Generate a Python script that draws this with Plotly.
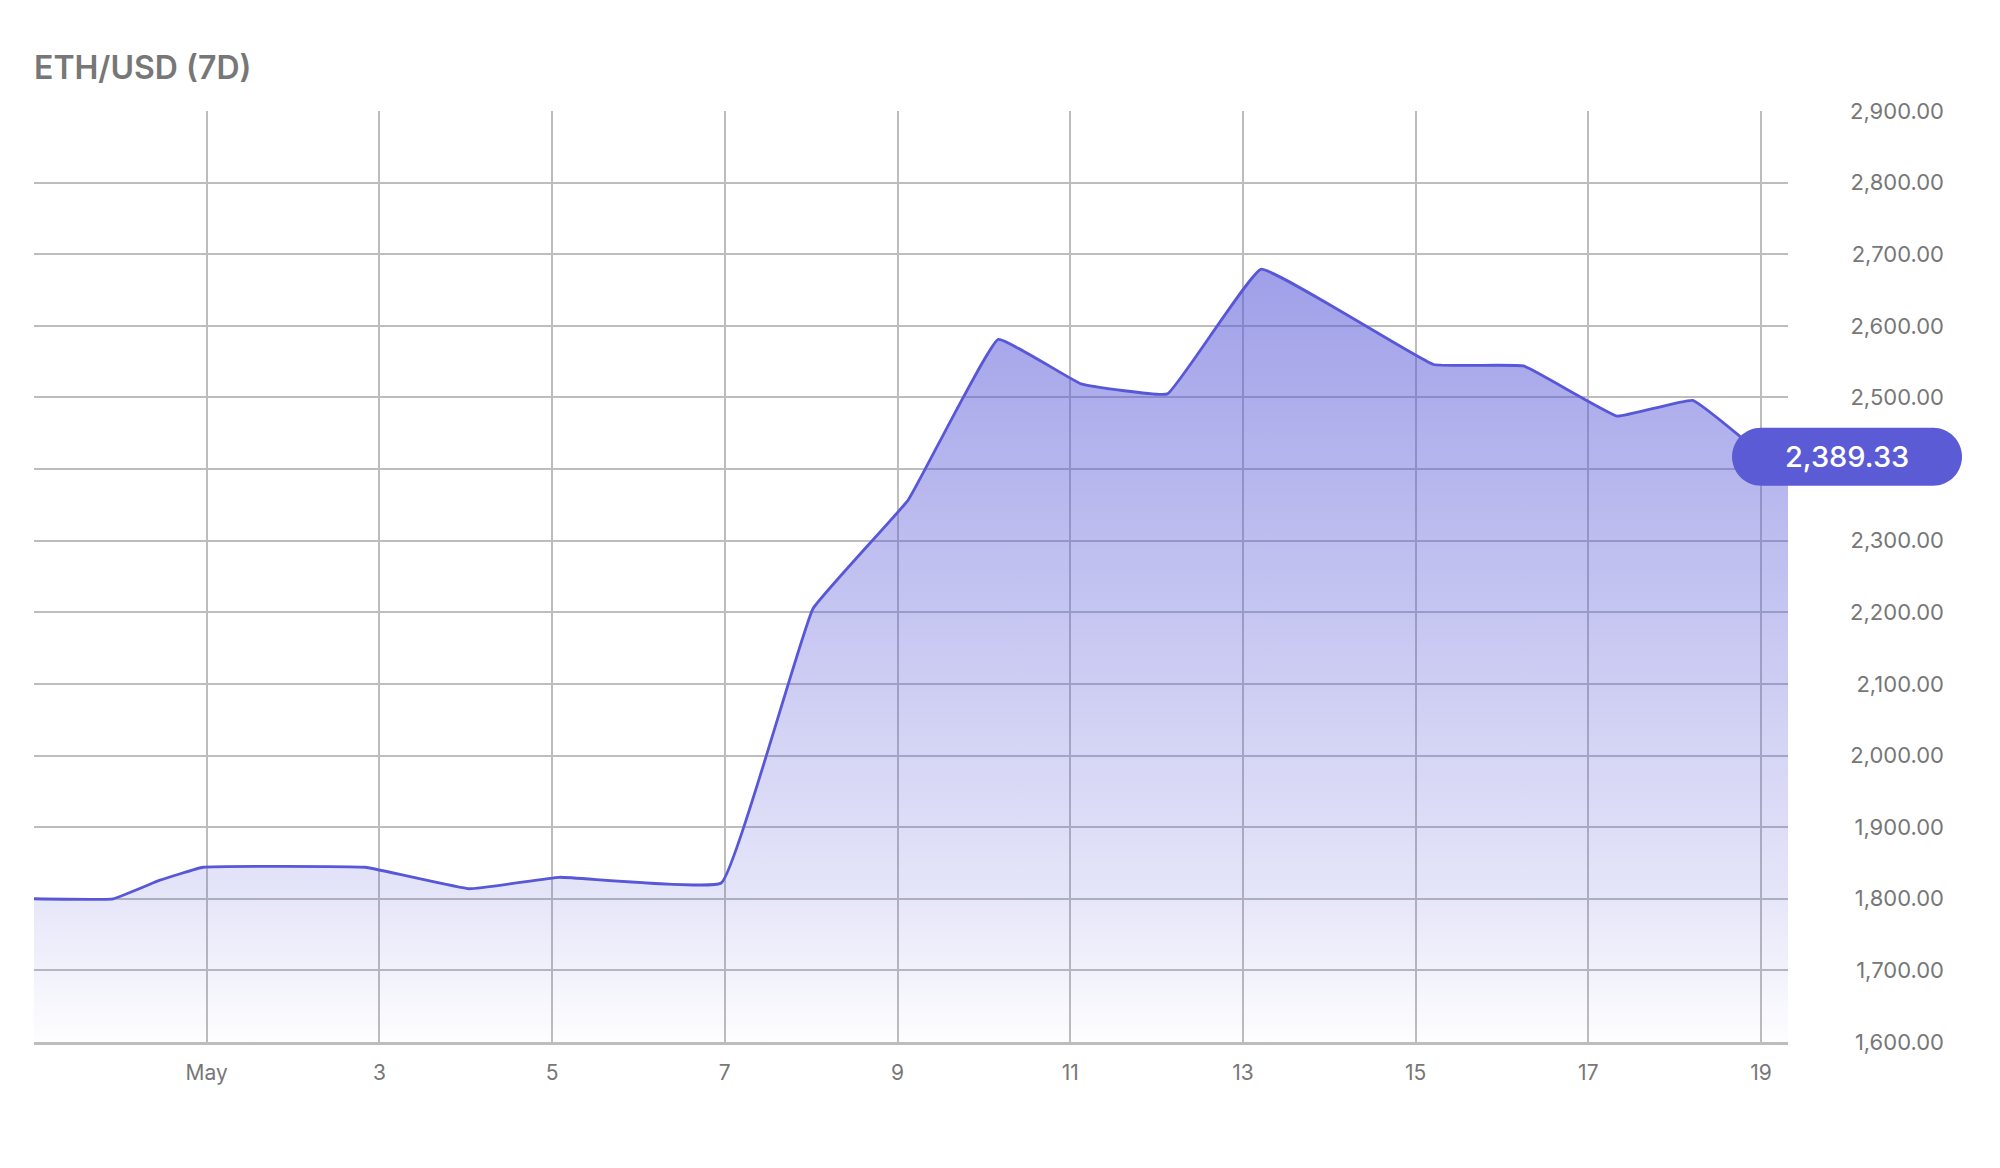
import plotly.graph_objects as go

# ---- data ----
dates = [
    "2025-04-29 00:00", "2025-04-29 22:00", "2025-04-30 11:00", "2025-04-30 23:00",
    "2025-05-02 20:00", "2025-05-04 01:00", "2025-05-05 02:00", "2025-05-06 23:00",
    "2025-05-08 00:30", "2025-05-09 03:00", "2025-05-10 04:00", "2025-05-11 03:00",
    "2025-05-12 03:00", "2025-05-13 05:00", "2025-05-15 05:00", "2025-05-16 06:00",
    "2025-05-17 08:00", "2025-05-18 05:00", "2025-05-19 07:30",
]
prices = [
    1800, 1800, 1826, 1844,
    1844, 1814, 1830, 1822,
    2205, 2357, 2581, 2519,
    2505, 2679, 2546, 2544,
    2474, 2496, 2389.33,
]
tick_vals = ["2025-04-29", "2025-05-01", "2025-05-03", "2025-05-05", "2025-05-07",
             "2025-05-09", "2025-05-11", "2025-05-13", "2025-05-15", "2025-05-17",
             "2025-05-19"]
tick_text = ["", "May", "3", "5", "7", "9", "11", "13", "15", "17", "19"]
y_ticks = [1600, 1700, 1800, 1900, 2000, 2100, 2200, 2300, 2400, 2500,
           2600, 2700, 2800, 2900]
title_text = "ETH/USD (7D)"

LINE = "#5757D8"
GRID = "#BDBDBD"
TXT = "#777777"

last = prices[-1]
# labels hidden behind the price badge (as in the reference)
y_text = ["" if abs(v - last) < 50 else f"{v:,.2f}" for v in y_ticks]

fig = go.Figure()
fig.add_trace(go.Scatter(
    x=dates, y=prices, mode="lines",
    line=dict(color=LINE, width=2.8, shape="spline", smoothing=0.25),
    fill="tozeroy",
    fillgradient=dict(
        type="vertical",
        colorscale=[[0, "rgba(87,87,216,0.01)"], [0.2, "rgba(87,87,216,0.16)"],
                    [1, "rgba(87,87,216,0.57)"]],
        start=1600, stop=2680,
    ),
    hoverinfo="skip", showlegend=False,
))

# pill badge
w, h = 230, 58
r = h / 2
k = 0.5523 * r
cy = 20
x1 = w / 2 - r
path = (f"M {-x1},{cy - r} L {x1},{cy - r} "
        f"C {x1 + k},{cy - r} {w/2},{cy - k} {w/2},{cy} "
        f"C {w/2},{cy + k} {x1 + k},{cy + r} {x1},{cy + r} "
        f"L {-x1},{cy + r} "
        f"C {-x1 - k},{cy + r} {-w/2},{cy + k} {-w/2},{cy} "
        f"C {-w/2},{cy - k} {-x1 - k},{cy - r} {-x1},{cy - r} Z")
badge_x = (1847 - 34) / 1954
fig.add_shape(type="path", path=path, xref="paper", yref="y",
              xsizemode="pixel", ysizemode="pixel",
              xanchor=badge_x, yanchor=last,
              fillcolor="#5B5BD6", line=dict(width=0), layer="above")
fig.add_annotation(x=badge_x, y=last, xref="paper", yref="y", yshift=cy,
                   xanchor="center", yanchor="middle",
                   text=f"{last:,.2f}", showarrow=False,
                   font=dict(family="Inter", size=29, color="white", weight=500))

fig.update_layout(
    width=2000, height=1168, template="none",
    margin=dict(l=26, r=20, t=103, b=134),
    plot_bgcolor="white", paper_bgcolor="white",
    font=dict(family="Inter", color=TXT),
    title=dict(text=title_text, x=0, xref="paper", xanchor="left",
               y=1 - 60 / 1168, yref="container", yanchor="middle",
               font=dict(family="Inter", size=32, color=TXT, weight=600)),
    xaxis=dict(
        type="date", domain=[0, (1788 - 34) / 1954],
        range=[dates[0], dates[-1]],
        tickvals=tick_vals, ticktext=tick_text,
        showgrid=True, gridcolor=GRID, gridwidth=1.5,
        showline=True, linecolor=GRID, linewidth=2.5,
        ticks="", zeroline=False, automargin=False,
        tickfont=dict(family="Inter", size=21, color=TXT),
        ticklabelstandoff=10,
    ),
    yaxis=dict(
        anchor="free", position=(1944 - 34) / 1954, side="left",
        range=[1600, 2900], tickvals=y_ticks, ticktext=y_text,
        showgrid=True, gridcolor=GRID, gridwidth=1.5,
        showline=False, zeroline=False, ticks="", automargin=False,
        tickfont=dict(family="Inter", size=22, color=TXT),
        ticklabelstandoff=0,
    ),
)

fig.write_html("out.html")
